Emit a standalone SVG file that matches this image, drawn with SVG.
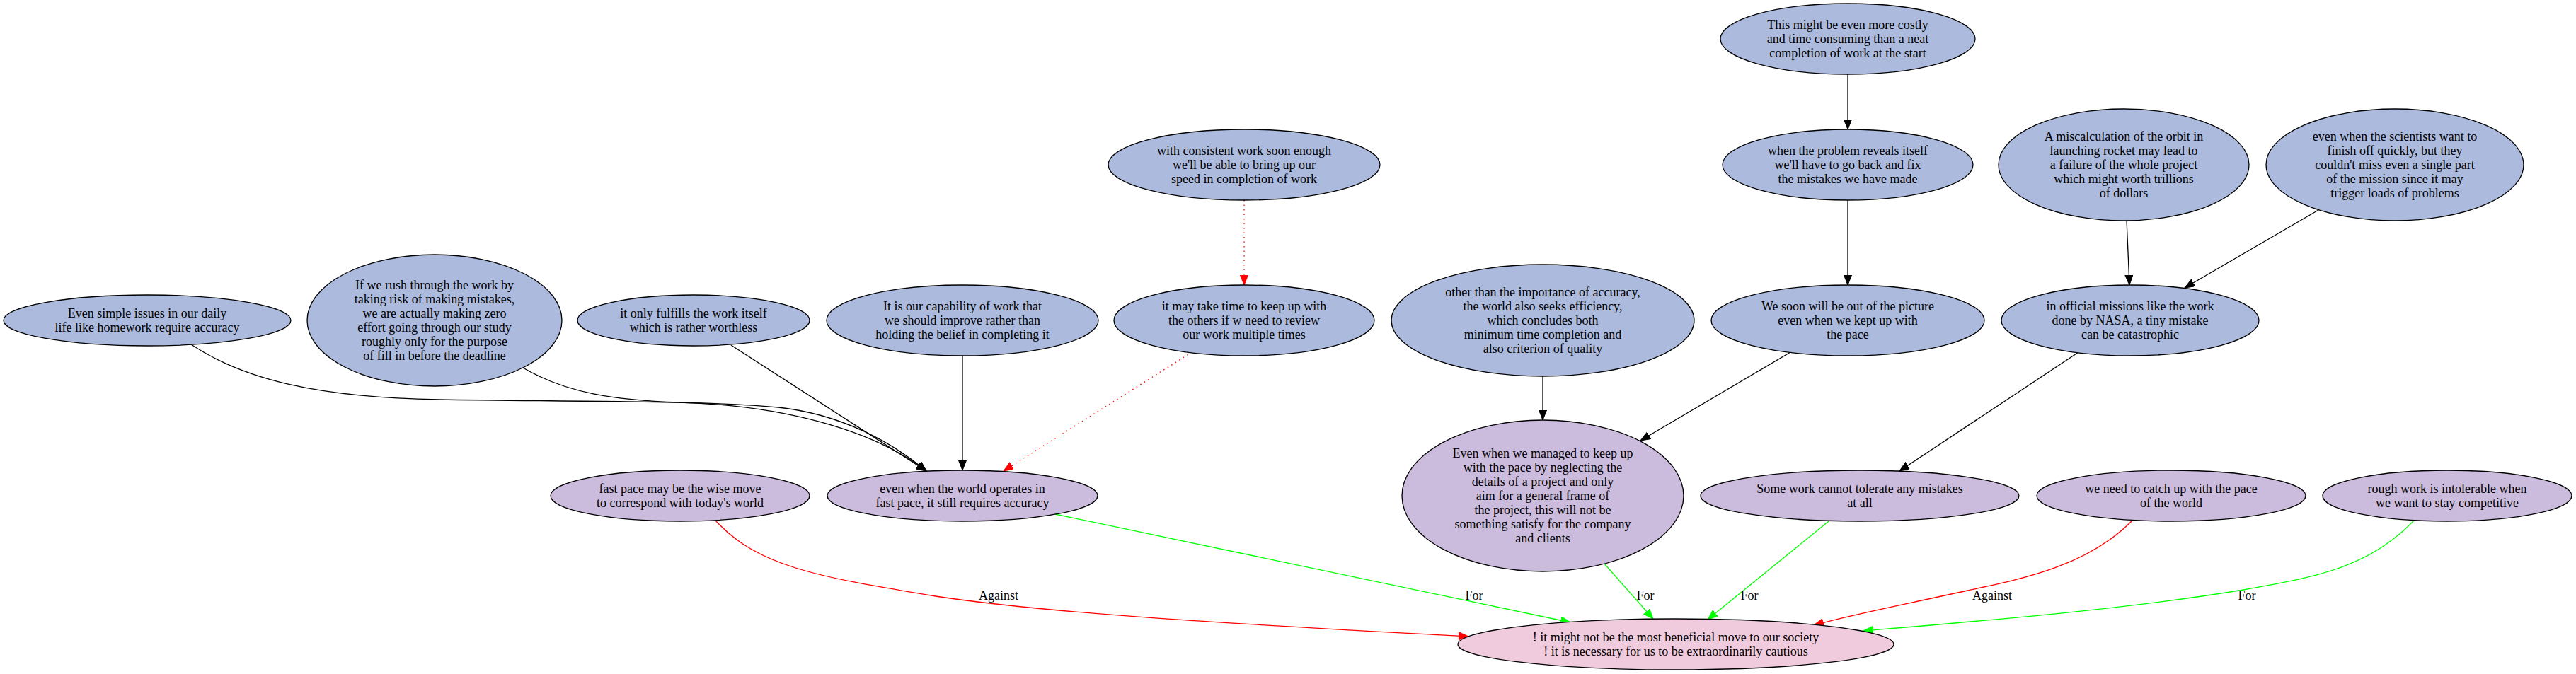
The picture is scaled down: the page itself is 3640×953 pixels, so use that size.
<svg xmlns="http://www.w3.org/2000/svg" width="3640" height="953" viewBox="0 0 3640 953">
<style>
.n ellipse{stroke:#000;stroke-width:1.3}
.b{fill:#abbadd}
.p{fill:#cbbbdc}
.k{fill:#efcbdd}
text{font-family:"Liberation Serif","Times New Roman",serif;font-size:18px;text-anchor:middle;fill:#000}
.e path{fill:none;stroke-width:1.3}
.blk{stroke:#000}
.red{stroke:#f00;stroke-width:1.6}
.grn{stroke:#0f0;stroke-width:1.6}
.dot{stroke-dasharray:1.5,5}
</style>
<defs>
<marker id="ab" markerUnits="userSpaceOnUse" markerWidth="16" markerHeight="12" refX="14" refY="5.5" orient="auto"><path d="M0,0 L14,5.5 L0,11 Z" fill="#000" stroke="#000" stroke-width="1"/></marker>
<marker id="ar" markerUnits="userSpaceOnUse" markerWidth="16" markerHeight="12" refX="14" refY="5.5" orient="auto"><path d="M0,0 L14,5.5 L0,11 Z" fill="#f00" stroke="#f00" stroke-width="1"/></marker>
<marker id="ag" markerUnits="userSpaceOnUse" markerWidth="16" markerHeight="12" refX="14" refY="5.5" orient="auto"><path d="M0,0 L14,5.5 L0,11 Z" fill="#0f0" stroke="#0f0" stroke-width="1"/></marker>
</defs>
<rect width="3640" height="953" fill="#fff"/>
<g id="edges" class="e">
<path class="blk" d="M2611,105 L2611,183" marker-end="url(#ab)"/>
<path class="blk" d="M2611,283 L2611,403" marker-end="url(#ab)"/>
<path class="blk" d="M3005,311 L3009,403" marker-end="url(#ab)"/>
<path class="blk" d="M3276,297 L3087,407" marker-end="url(#ab)"/>
<path class="blk" d="M2937,498 L2684,666" marker-end="url(#ab)"/>
<path class="blk" d="M2180,532 L2180,594" marker-end="url(#ab)"/>
<path class="blk" d="M2530,498 L2318,623" marker-end="url(#ab)"/>
<path class="blk" d="M270,487 C345,537 450,562 620,565 C800,568 1000,566 1100,576 C1190,586 1260,625 1309,666" marker-end="url(#ab)"/>
<path class="blk" d="M739,520 C800,556 870,566 960,569 C1100,573 1230,605 1309,666" marker-end="url(#ab)"/>
<path class="blk" d="M1033,488 L1309,666" marker-end="url(#ab)"/>
<path class="blk" d="M1360,503 L1360,665" marker-end="url(#ab)"/>
<path class="red dot" d="M1758,283 L1758,403" marker-end="url(#ar)"/>
<path class="red dot" d="M1684,498 L1418,666" marker-end="url(#ar)"/>
<path class="red" d="M1011,736 C1070,800 1150,815 1322,843 C1500,870 1800,885 2075,900" marker-end="url(#ar)"/>
<path class="grn" d="M1491,727 L2219,880" marker-end="url(#ag)"/>
<path class="grn" d="M2267,797 L2336,875" marker-end="url(#ag)"/>
<path class="grn" d="M2584,737 L2413,876" marker-end="url(#ag)"/>
<path class="red" d="M3013,736 C2950,800 2860,818 2780,835 C2690,855 2620,868 2563,884" marker-end="url(#ar)"/>
<path class="grn" d="M3411,736 C3350,800 3280,815 3170,834 C3000,862 2800,878 2633,892" marker-end="url(#ag)"/>
<text x="1411" y="848">Against</text>
<text x="2083" y="848">For</text>
<text x="2325" y="848">For</text>
<text x="2472" y="848">For</text>
<text x="2815" y="848">Against</text>
<text x="3175" y="848">For</text>
</g>
<g id="n_costly" class="n"><ellipse class="b" cx="2611" cy="55" rx="180" ry="50"/><text x="2611" y="41">This might be even more costly</text><text x="2611" y="61">and time consuming than a neat</text><text x="2611" y="81">completion of work at the start</text></g>
<g id="n_consistent" class="n"><ellipse class="b" cx="1758" cy="233" rx="192" ry="50"/><text x="1758" y="219">with consistent work soon enough</text><text x="1758" y="239">we'll be able to bring up our</text><text x="1758" y="259">speed in completion of work</text></g>
<g id="n_problem" class="n"><ellipse class="b" cx="2611" cy="233" rx="177" ry="50"/><text x="2611" y="219">when the problem reveals itself</text><text x="2611" y="239">we'll have to go back and fix</text><text x="2611" y="259">the mistakes we have made</text></g>
<g id="n_miscalc" class="n"><ellipse class="b" cx="3001" cy="233" rx="177" ry="79"/><text x="3001" y="199">A miscalculation of the orbit in</text><text x="3001" y="219">launching rocket may lead to</text><text x="3001" y="239">a failure of the whole project</text><text x="3001" y="259">which might worth trillions</text><text x="3001" y="279">of dollars</text></g>
<g id="n_scientists" class="n"><ellipse class="b" cx="3384" cy="233" rx="182" ry="79"/><text x="3384" y="199">even when the scientists want to</text><text x="3384" y="219">finish off quickly, but they</text><text x="3384" y="239">couldn't miss even a single part</text><text x="3384" y="259">of the mission since it may</text><text x="3384" y="279">trigger loads of problems</text></g>
<g id="n_simple" class="n"><ellipse class="b" cx="208" cy="453" rx="203" ry="36"/><text x="208" y="449">Even simple issues in our daily</text><text x="208" y="469">life like homework require accuracy</text></g>
<g id="n_rush" class="n"><ellipse class="b" cx="614" cy="453" rx="180" ry="93"/><text x="614" y="409">If we rush through the work by</text><text x="614" y="429">taking risk of making mistakes,</text><text x="614" y="449">we are actually making zero</text><text x="614" y="469">effort going through our study</text><text x="614" y="489">roughly only for the purpose</text><text x="614" y="509">of fill in before the deadline</text></g>
<g id="n_fulfills" class="n"><ellipse class="b" cx="980" cy="453" rx="164" ry="36"/><text x="980" y="449">it only fulfills the work itself</text><text x="980" y="469">which is rather worthless</text></g>
<g id="n_capability" class="n"><ellipse class="b" cx="1360" cy="453" rx="192" ry="50"/><text x="1360" y="439">It is our capability of work that</text><text x="1360" y="459">we should improve rather than</text><text x="1360" y="479">holding the belief in completing it</text></g>
<g id="n_maytake" class="n"><ellipse class="b" cx="1758" cy="453" rx="184" ry="50"/><text x="1758" y="439">it may take time to keep up with</text><text x="1758" y="459">the others if w need to review</text><text x="1758" y="479">our work multiple times</text></g>
<g id="n_otherthan" class="n"><ellipse class="b" cx="2180" cy="453" rx="214" ry="79"/><text x="2180" y="419">other than the importance of accuracy,</text><text x="2180" y="439">the world also seeks efficiency,</text><text x="2180" y="459">which concludes both</text><text x="2180" y="479">minimum time completion and</text><text x="2180" y="499">also criterion of quality</text></g>
<g id="n_wesoon" class="n"><ellipse class="b" cx="2611" cy="453" rx="193" ry="50"/><text x="2611" y="439">We soon will be out of the picture</text><text x="2611" y="459">even when we kept up with</text><text x="2611" y="479">the pace</text></g>
<g id="n_official" class="n"><ellipse class="b" cx="3010" cy="453" rx="182" ry="50"/><text x="3010" y="439">in official missions like the work</text><text x="3010" y="459">done by NASA, a tiny mistake</text><text x="3010" y="479">can be catastrophic</text></g>
<g id="n_fastpace" class="n"><ellipse class="p" cx="961" cy="701" rx="183" ry="36"/><text x="961" y="697">fast pace may be the wise move</text><text x="961" y="717">to correspond with today's world</text></g>
<g id="n_operates" class="n"><ellipse class="p" cx="1360" cy="701" rx="191" ry="36"/><text x="1360" y="697">even when the world operates in</text><text x="1360" y="717">fast pace, it still requires accuracy</text></g>
<g id="n_managed" class="n"><ellipse class="p" cx="2180" cy="701" rx="199" ry="107"/><text x="2180" y="647">Even when we managed to keep up</text><text x="2180" y="667">with the pace by neglecting the</text><text x="2180" y="687">details of a project and only</text><text x="2180" y="707">aim for a general frame of</text><text x="2180" y="727">the project, this will not be</text><text x="2180" y="747">something satisfy for the company</text><text x="2180" y="767">and clients</text></g>
<g id="n_somework" class="n"><ellipse class="p" cx="2628" cy="701" rx="225" ry="36"/><text x="2628" y="697">Some work cannot tolerate any mistakes</text><text x="2628" y="717">at all</text></g>
<g id="n_catchup" class="n"><ellipse class="p" cx="3068" cy="701" rx="190" ry="36"/><text x="3068" y="697">we need to catch up with the pace</text><text x="3068" y="717">of the world</text></g>
<g id="n_rough" class="n"><ellipse class="p" cx="3458" cy="701" rx="176" ry="36"/><text x="3458" y="697">rough work is intolerable when</text><text x="3458" y="717">we want to stay competitive</text></g>
<g id="n_claim" class="n"><ellipse class="k" cx="2368" cy="911" rx="308" ry="36"/><text x="2368" y="907">! it might not be the most beneficial move to our society</text><text x="2368" y="927">! it is necessary for us to be extraordinarily cautious</text></g>
</svg>
